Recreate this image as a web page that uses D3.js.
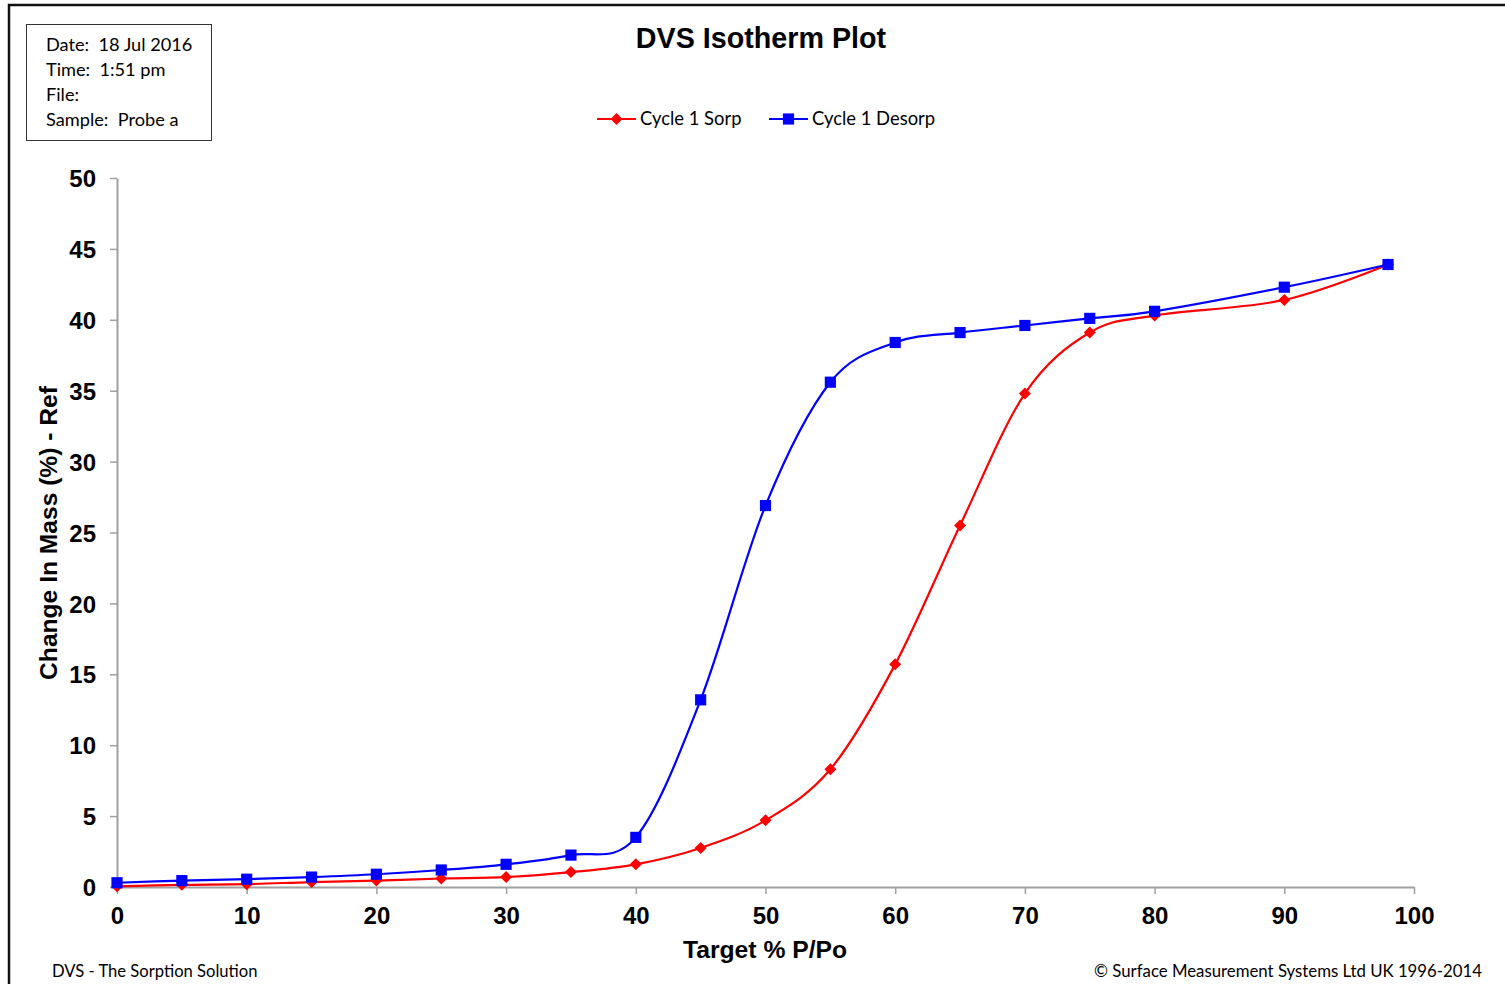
<!DOCTYPE html>
<html>
<head>
<meta charset="utf-8">
<script src="https://cdn.jsdelivr.net/npm/d3@7"></script>
<style>
  body { margin: 0; background: #fff; }
  svg { display: block; }
  text { white-space: pre; }
</style>
</head>
<body>
<div id="chart"></div>
<script>
// values
const rh = [0, 5, 10, 15, 20, 25, 30, 35, 40, 45, 50, 55, 60, 65, 70, 75, 80, 90, 98];
const sorp = [0.05, 0.15, 0.2, 0.35, 0.45, 0.6, 0.7, 1.05, 1.6, 2.75, 4.7, 8.3, 15.7, 25.5, 34.8, 39.1, 40.3, 41.4, 43.9];
const desorp = [0.3, 0.45, 0.55, 0.7, 0.9, 1.2, 1.6, 2.25, 3.5, 13.2, 26.9, 35.6, 38.4, 39.1, 39.6, 40.1, 40.6, 42.3, 43.9];
const xTicks = [0, 10, 20, 30, 40, 50, 60, 70, 80, 90, 100];
const yTicks = [0, 5, 10, 15, 20, 25, 30, 35, 40, 45, 50];
const infoLines = ["Date:  18 Jul 2016", "Time:  1:51 pm", "File:", "Sample:  Probe a"];

const colors = { sorp: "#ff0000", desorp: "#0000ff", axis: "#a0a0a0" }
const sans = "Lato, 'Open Sans', sans-serif", arial = "Liberation Sans, Arial, sans-serif";

let width = 1505, height = 984;

let svg = d3.select("#chart").append("svg")
    .attr("width", width).attr("height", height);

// outer frame (top + left edges visible)
svg.append("path")
    .attr("d", "M9,984 L9,5 L1505,5")
    .attr("fill", "none").attr("stroke", "#111").attr("stroke-width", 2.5);

// info box
svg.append("rect").attr("x", 26.5).attr("y", 24.5).attr("width", 185).attr("height", 116)
    .attr("fill", "#fff").attr("stroke", "#333").attr("stroke-width", 1);
svg.append("g").selectAll("text").data(infoLines).enter().append("text")
    .attr("x", 46).attr("y", (d, i) => 51 + i * 25)
    .attr("font-family", sans).attr("font-size", 18.2)
    .attr("fill", "#000").text(d => d);

// title
svg.append("text").attr("x", 761).attr("y", 48).attr("text-anchor", "middle")
    .attr("font-family", arial).attr("font-weight", "bold")
    .attr("font-size", 28.7).text("DVS Isotherm Plot");

let x = d3.scaleLinear().domain([0, 100]).range([117, 1414]);
let y = d3.scaleLinear().domain([0, 50]).range([887, 178]);

// axes
let gx = svg.append("g").attr("transform", "translate(0,887)")
    .call(d3.axisBottom(x).tickValues(xTicks).tickSize(7).tickSizeOuter(0).tickPadding(10));
let gy = svg.append("g").attr("transform", "translate(117,0)")
    .call(d3.axisLeft(y).tickValues(yTicks).tickSize(7).tickSizeOuter(0).tickPadding(14));

[gx, gy].forEach(g => {
    g.select(".domain").attr("stroke", colors.axis).attr("stroke-width", 2);
    g.selectAll(".tick line").attr("stroke", colors.axis).attr("stroke-width", 1.5);
    g.selectAll("text").attr("font-family", arial)
        .attr("font-weight", "bold").attr("font-size", 24).attr("fill", "#000");
});
gx.selectAll(".tick text").attr("dy", "0.85em");
gy.selectAll(".tick text").attr("dy", "0.36em");

// axis titles
svg.append("text").attr("x", 765).attr("y", 958).attr("text-anchor", "middle")
    .attr("font-family", arial).attr("font-weight", "bold")
    .attr("font-size", 24.7).text("Target % P/Po");
svg.append("text").attr("transform", "translate(57,533) rotate(-90)").attr("text-anchor", "middle")
    .attr("font-family", arial).attr("font-weight", "bold")
    .attr("font-size", 24.6).text("Change In Mass (%) - Ref");

// series
const series = [
    { name: "Cycle 1 Sorp", values: sorp, color: colors.sorp, rot: 45, size: 72 },
    { name: "Cycle 1 Desorp", values: desorp, color: colors.desorp, rot: 0, size: 125 }
];

let line = d3.line()
    .x(d => x(d[0])).y(d => y(d[1]))
    .curve(d3.curveCatmullRom.alpha(0));

series.forEach(s => {
    let pts = rh.map((r, i) => [r, s.values[i]]);
    svg.append("path").datum(pts)
        .attr("d", line).attr("fill", "none")
        .attr("stroke", s.color).attr("stroke-width", 2.2);
    svg.append("g").selectAll("path").data(pts).enter().append("path")
        .attr("transform", d => `translate(${x(d[0])},${y(d[1])}) rotate(${s.rot})`)
        .attr("d", d3.symbol().type(d3.symbolSquare).size(s.size))
        .attr("fill", s.color);
});

// legend
const legX = [597, 769];
series.forEach((s, i) => {
    let g = svg.append("g").attr("transform", `translate(${legX[i]},119)`);
    g.append("line").attr("x1", 0).attr("x2", 39).attr("y1", 0).attr("y2", 0)
        .attr("stroke", s.color).attr("stroke-width", 2.2);
    g.append("path").attr("transform", `translate(19.5,0) rotate(${s.rot})`)
        .attr("d", d3.symbol().type(d3.symbolSquare).size(s.size)).attr("fill", s.color);
    g.append("text").attr("x", 43).attr("y", 6)
        .attr("font-family", sans).attr("font-size", 18.4)
        .text(s.name);
});

// footer
svg.append("text").attr("x", 52).attr("y", 977)
    .attr("font-family", sans).attr("font-size", 16.6)
    .text("DVS - The Sorption Solution");
svg.append("text").attr("x", 1482).attr("y", 977).attr("text-anchor", "end")
    .attr("font-family", sans).attr("font-size", 16.8)
    .text("© Surface Measurement Systems Ltd UK 1996-2014");
</script>
</body>
</html>
